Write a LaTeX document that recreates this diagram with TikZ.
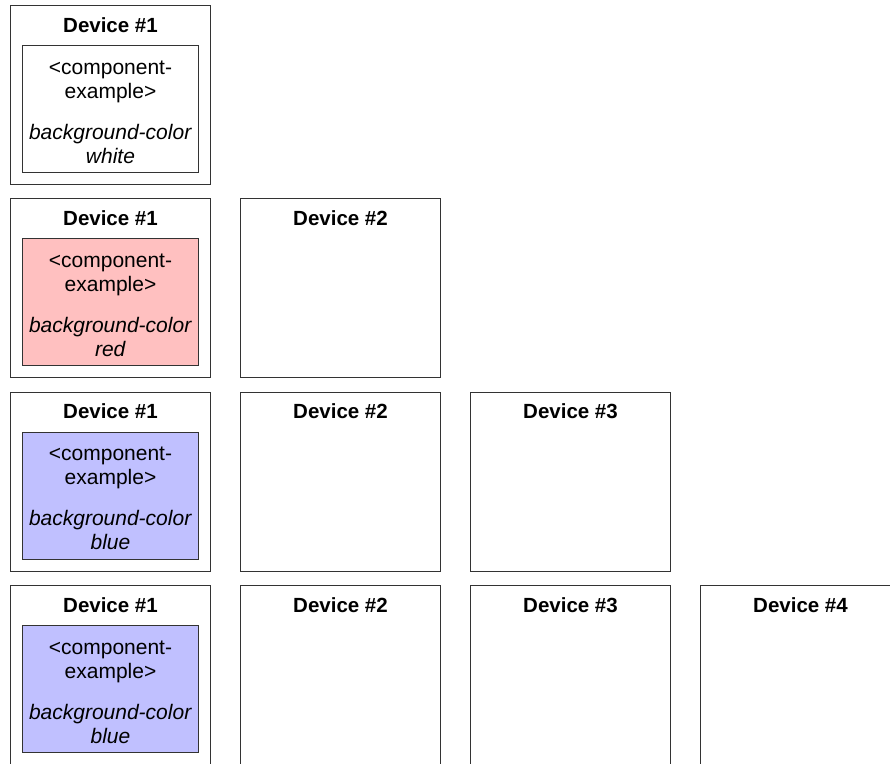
\documentclass[tikz,border=0pt]{standalone}
\usepackage{fontspec}
\setmainfont{Liberation Sans}
\usetikzlibrary{positioning}
\definecolor{compred}{HTML}{FFC0C0}
\definecolor{compblue}{HTML}{C0C0FF}
\tikzset{
  device/.style={draw=black!80, line width=1pt, minimum width=200pt,
    minimum height=179pt, inner sep=0pt},
  devtitle/.style={anchor=base, font=\fontsize{20.5}{24}\selectfont\bfseries},
  component/.style={draw=black!80, line width=1pt, minimum width=176pt,
    minimum height=127pt, inner sep=0pt},
  comptext/.style={align=center, inner sep=0pt,
    font=\fontsize{21}{24}\selectfont}
}

\begin{document}
\begin{tikzpicture}[x=1pt, y=-1pt]
  \useasboundingbox (0,0) rectangle (890,763);
  \clip (0,0) rectangle (890,763);
  % one row of devices per setup
  \foreach \r/\rowy in {1/5, 2/198.3, 3/391.7, 4/585}
    \foreach \c in {1,...,\r} {
      \node[device, anchor=north west] (dev\r\c) at ({10+230*(\c-1)}, \rowy) {};
      \node[devtitle] (title\r\c) at ([yshift=-27pt]dev\r\c.north) {Device \#\c};
    }
  % the component sits in device #1
  \foreach \r/\fillcol/\colname in {1/white/white, 2/compred/red, 3/compblue/blue, 4/compblue/blue} {
    \node[component, fill=\fillcol, below=40pt of dev\r1.north] (comp\r) {};
    \node[comptext] (text\r) at ([yshift=-3pt]comp\r.center)
      {<component-\\example>\\[17pt]\textit{background-color}\\\textit{\colname}};
  }
\end{tikzpicture}
\end{document}
